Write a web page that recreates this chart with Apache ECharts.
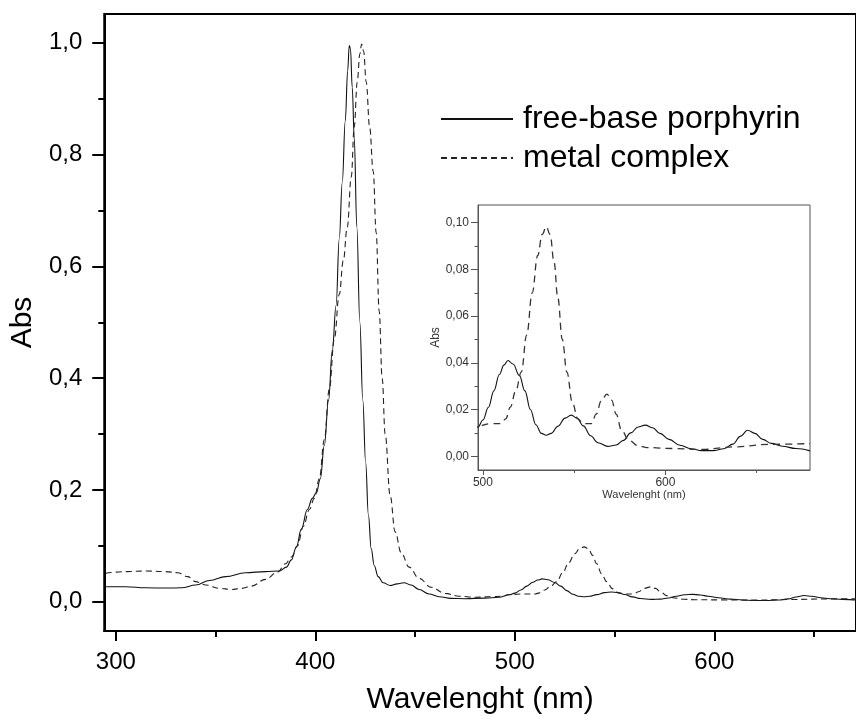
<!DOCTYPE html>
<html>
<head>
<meta charset="utf-8">
<script src="https://cdn.jsdelivr.net/npm/echarts@6/dist/echarts.min.js"></script>
<style>
html,body{margin:0;padding:0;background:#fff;}
#chart{width:856px;height:726px;}
</style>
</head>
<body>
<div id="chart"></div>
<script>
// ---- Data ----
var seriesNames = ['free-base porphyrin', 'metal complex'];

// free-base porphyrin (solid)
var fbNm = [295,305,315,325,333,340,347,355,365,375,382,385.5,388,390.5,393,396,398.5,400.5,402.5,404.5,406.6,408.5,410.4,412,413.5,415,416.2,417,417.6,418.5,419.5,420.8,422.3,423.8,425.2,426.6,428,429.5,431.5,434,437.5,441,444.5,448,452,457,462,468,475,485,492,497.3,500,503,506,509,511.5,513.7,516.5,520,523,526,529,532,534.7,537.5,541,545,548.4,551.5,555,559,563,568.4,573,577,581,585,589,593,597,602,608,614,620,626,632,637,641,645,649,653.3,658,664,671.5,679.2];
var fbAbs = [0.027,0.027,0.025,0.0245,0.025,0.030,0.038,0.045,0.052,0.054,0.055,0.062,0.075,0.098,0.13,0.165,0.185,0.195,0.22,0.28,0.36,0.45,0.53,0.65,0.75,0.86,0.95,0.995,0.99,0.92,0.83,0.67,0.50,0.36,0.25,0.155,0.095,0.065,0.045,0.034,0.029,0.032,0.034,0.030,0.022,0.014,0.009,0.006,0.0055,0.0065,0.008,0.0125,0.0155,0.021,0.028,0.035,0.039,0.041,0.0395,0.0345,0.028,0.020,0.0135,0.0098,0.009,0.0098,0.0128,0.0163,0.0176,0.0163,0.013,0.0088,0.0058,0.0042,0.0048,0.0068,0.0100,0.0125,0.0133,0.0122,0.0098,0.0072,0.0047,0.0032,0.0024,0.0024,0.0032,0.0052,0.0085,0.0111,0.0098,0.0072,0.0055,0.0043,0.0033,0.0023];

// metal complex (dashed)
var mcNm = [295,305,315,325,331,336,340,345,352,358,363,368,375,381,385,388,391,394,397,399.5,402,404.5,407,409.5,412,414,416,418,419.5,421,422.3,423.2,424.2,425.5,427.2,429,430.5,432,433.5,435,437.5,440,443,447,452,458,465,472,480,488,494,497.3,505,510,512.5,515,518,521,524,527,530,532.5,534.7,536.8,539,541,543.5,546,549,552,555,559.5,562,565,567.9,570.5,573,576,580,585,590,604,620,638,657,679.2];
var mcAbs = [0.051,0.054,0.055,0.054,0.052,0.045,0.036,0.030,0.024,0.022,0.024,0.028,0.040,0.053,0.068,0.080,0.100,0.135,0.165,0.185,0.22,0.29,0.38,0.47,0.55,0.61,0.67,0.76,0.85,0.93,0.98,0.998,0.985,0.93,0.85,0.77,0.66,0.52,0.40,0.30,0.19,0.125,0.088,0.062,0.042,0.026,0.015,0.010,0.008,0.009,0.010,0.013,0.014,0.014,0.016,0.021,0.028,0.036,0.052,0.070,0.086,0.095,0.0983,0.095,0.083,0.068,0.050,0.036,0.023,0.016,0.014,0.014,0.018,0.024,0.0266,0.024,0.018,0.011,0.0068,0.0045,0.0037,0.0033,0.0029,0.004,0.0051,0.0054];

// axis ticks / labels
var mainXMajor = [300,400,500,600];
var mainXMinor = [350,450,550,650];
var mainYMajor = [0,0.2,0.4,0.6,0.8,1.0];
var mainYMinor = [0.1,0.3,0.5,0.7,0.9];
var insetXMajor = [500,600];
var insetXMinor = [550,650];
var insetYMajor = [0,0.02,0.04,0.06,0.08,0.10];
var insetYMinor = [0.01,0.03,0.05,0.07,0.09];

function zip(a, b) { return a.map(function (v, i) { return [v, b[i]]; }); }

var FONT = "'Liberation Sans', Arial, sans-serif";

function axis(opts) {
  return Object.assign({
    type: 'value',
    splitLine: { show: false },
    axisLine: { show: true, onZero: false, lineStyle: { color: '#000', width: 2 } },
    axisTick: { show: true, inside: false, length: 10, lineStyle: { color: '#000', width: 2 } },
    axisLabel: { color: '#000', fontFamily: FONT, fontSize: 24 }
  }, opts);
}

var chart = echarts.init(document.getElementById('chart'), null, { renderer: 'canvas' });

var option = {
  animation: false,
  backgroundColor: '#fff',
  grid: [
    { left: 104, top: 14, right: -5, bottom: 95, show: true, borderColor: '#000', borderWidth: 2, containLabel: false },
    { left: 478, top: 205, width: 332, height: 265, show: true, borderColor: '#555', borderWidth: 1, containLabel: false }
  ],
  legend: {
    show: true,
    data: seriesNames,
    orient: 'vertical',
    left: 440,
    top: 103,
    padding: 0,
    itemWidth: 72,
    itemHeight: 2,
    itemGap: 7,
    selectedMode: false,
    itemStyle: { opacity: 0 },
    textStyle: { color: '#000', fontFamily: FONT, fontSize: 32, lineHeight: 32, padding: [0, 0, 0, 5] }
  },
  xAxis: [
    axis({
      gridIndex: 0, position: 'bottom', min: 294.2, max: 671,
      name: 'Wavelenght (nm)', nameLocation: 'middle', nameGap: 54,
      nameTextStyle: { color: '#000', fontFamily: FONT, fontSize: 30 },
      axisTick: { show: true, length: 10, customValues: mainXMajor, lineStyle: { color: '#000', width: 2 } },
      axisLabel: { color: '#000', fontFamily: FONT, fontSize: 24, margin: 19, customValues: mainXMajor, formatter: function (v) { return String(Math.round(v)); } }
    }),
    axis({
      gridIndex: 0, position: 'bottom', min: 294.2, max: 671,
      axisLine: { show: false, onZero: false },
      axisTick: { show: true, length: 6, customValues: mainXMinor, lineStyle: { color: '#000', width: 2 } },
      axisLabel: { show: false }
    }),
    axis({
      gridIndex: 1, position: 'bottom', min: 497.3, max: 679.2,
      name: 'Wavelenght (nm)', nameLocation: 'middle', nameGap: 18,
      nameTextStyle: { color: '#333', fontFamily: FONT, fontSize: 11 },
      axisLine: { show: true, onZero: false, lineStyle: { color: '#555', width: 1 } },
      axisTick: { show: true, length: 5, customValues: insetXMajor, lineStyle: { color: '#555', width: 1 } },
      axisLabel: { color: '#333', fontFamily: FONT, fontSize: 12, margin: 7, customValues: insetXMajor, formatter: function (v) { return String(Math.round(v)); } }
    }),
    axis({
      gridIndex: 1, position: 'bottom', min: 497.3, max: 679.2,
      axisLine: { show: false, onZero: false },
      axisTick: { show: true, length: 3, customValues: insetXMinor, lineStyle: { color: '#555', width: 1 } },
      axisLabel: { show: false }
    })
  ],
  yAxis: [
    axis({
      gridIndex: 0, position: 'left', min: -0.0523, max: 1.0516,
      name: 'Abs', nameLocation: 'middle', nameGap: 66, nameRotate: 90,
      nameTextStyle: { color: '#000', fontFamily: FONT, fontSize: 30 },
      axisTick: { show: true, length: 12, customValues: mainYMajor, lineStyle: { color: '#000', width: 2 } },
      axisLabel: { color: '#000', fontFamily: FONT, fontSize: 24, margin: 22, customValues: mainYMajor, formatter: function (v) { return v.toFixed(1).replace('.', ','); } }
    }),
    axis({
      gridIndex: 0, position: 'left', min: -0.0523, max: 1.0516,
      axisLine: { show: false, onZero: false },
      axisTick: { show: true, length: 6, customValues: mainYMinor, lineStyle: { color: '#000', width: 2 } },
      axisLabel: { show: false }
    }),
    axis({
      gridIndex: 1, position: 'left', min: -0.0059, max: 0.1076,
      name: 'Abs', nameLocation: 'middle', nameGap: 34, nameRotate: 90,
      nameTextStyle: { color: '#333', fontFamily: FONT, fontSize: 12 },
      axisLine: { show: true, onZero: false, lineStyle: { color: '#555', width: 1 } },
      axisTick: { show: true, length: 7, customValues: insetYMajor, lineStyle: { color: '#555', width: 1 } },
      axisLabel: { color: '#333', fontFamily: FONT, fontSize: 12, margin: 9, customValues: insetYMajor, formatter: function (v) { return v.toFixed(2).replace('.', ','); } }
    }),
    axis({
      gridIndex: 1, position: 'left', min: -0.0059, max: 0.1076,
      axisLine: { show: false, onZero: false },
      axisTick: { show: true, length: 3.5, customValues: insetYMinor, lineStyle: { color: '#555', width: 1 } },
      axisLabel: { show: false }
    })
  ],
  series: [
    { name: seriesNames[0], type: 'line', xAxisIndex: 0, yAxisIndex: 0, data: zip(fbNm, fbAbs),
      symbol: 'none', smooth: 0.4, smoothMonotone: 'x', lineStyle: { color: '#111', width: 1.1, type: 'solid' }, itemStyle: { color: '#111' } },
    { name: seriesNames[1], type: 'line', xAxisIndex: 0, yAxisIndex: 0, data: zip(mcNm, mcAbs),
      symbol: 'none', smooth: 0.4, smoothMonotone: 'x', lineStyle: { color: '#222', width: 1.1, type: [6, 4] }, itemStyle: { color: '#222' } },
    { name: seriesNames[0], type: 'line', xAxisIndex: 2, yAxisIndex: 2, data: zip(fbNm, fbAbs),
      symbol: 'none', smooth: 0.4, smoothMonotone: 'x', lineStyle: { color: '#111', width: 1.1, type: 'solid' }, itemStyle: { color: '#111' } },
    { name: seriesNames[1], type: 'line', xAxisIndex: 2, yAxisIndex: 2, data: zip(mcNm, mcAbs),
      symbol: 'none', smooth: 0.4, smoothMonotone: 'x', lineStyle: { color: '#333', width: 1.3, type: [7, 5] }, itemStyle: { color: '#333' } }
  ]
};
chart.setOption(option);
</script>
</body>
</html>
